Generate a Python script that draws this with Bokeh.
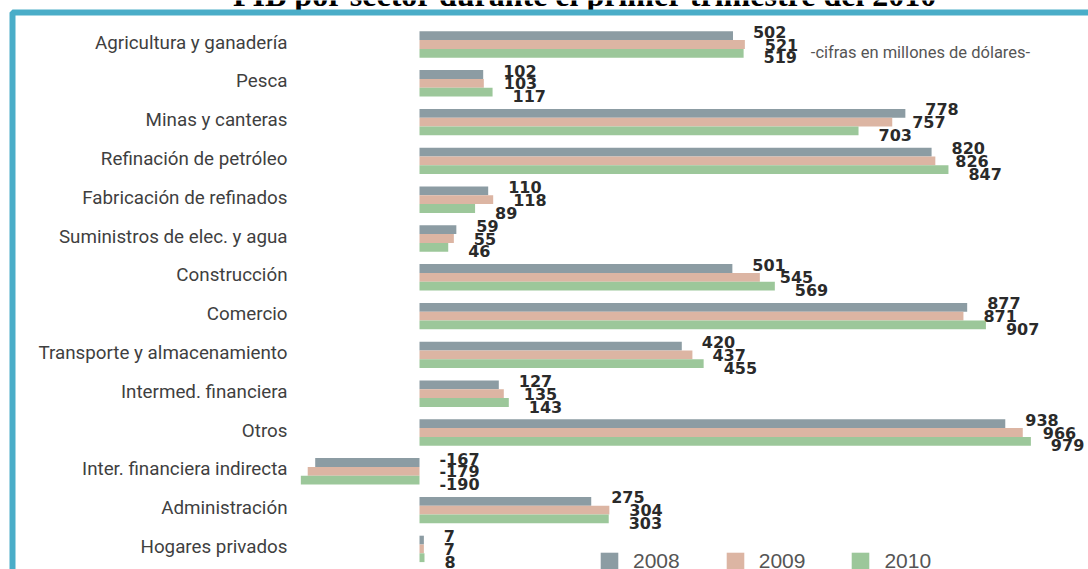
from bokeh.plotting import figure
from bokeh.models import ColumnDataSource, Range1d, BoxAnnotation, Label
from bokeh.transform import dodge
from bokeh.core.properties import value
from bokeh.embed import file_html
from bokeh.resources import INLINE

# PIB por sector, primer trimestre (millones de dólares)
sectores = [
    "Agricultura y ganadería",
    "Pesca",
    "Minas y canteras",
    "Refinación de petróleo",
    "Fabricación de refinados",
    "Suministros de elec. y agua",
    "Construcción",
    "Comercio",
    "Transporte y almacenamiento",
    "Intermed. financiera",
    "Otros",
    "Inter. financiera indirecta",
    "Administración",
    "Hogares privados",
]
pib_2008 = [502, 102, 778, 820, 110, 59, 501, 877, 420, 127, 938, -167, 275, 7]
pib_2009 = [521, 103, 757, 826, 118, 55, 545, 871, 437, 135, 966, -179, 304, 7]
pib_2010 = [519, 117, 703, 847, 89, 46, 569, 907, 455, 143, 979, -190, 303, 8]
anios = ["2008", "2009", "2010"]
colores = ["#8c9ca3", "#dcb5a3", "#9cc79a"]

W, H = 1088, 569
ROW_TOP = 44.0      # pixel centre of the first row
ROW_STEP = 38.8     # pixels between rows
ZERO_PX = 419.0     # pixel of the zero baseline
PX_PER_UNIT = 0.6245


def px_x(px):
    return (px - ZERO_PX) / PX_PER_UNIT


def px_y(py):
    return (py - ROW_TOP) / ROW_STEP


p = figure(
    width=W, height=H,
    x_range=Range1d(px_x(0), px_x(W)),
    y_range=Range1d(px_y(H), px_y(0)),
    x_axis_location=None, y_axis_location=None,
    output_backend="svg", toolbar_location=None,
    min_border=0, outline_line_color=None,
    background_fill_color="white", border_fill_color="white",
)
p.grid.visible = False

series = [pib_2008, pib_2009, pib_2010]
data = dict(y=list(range(len(sectores))), sector=sectores)
for anio, vals in zip(anios, series):
    data["v" + anio] = vals
    data["t" + anio] = [str(v) for v in vals]
    data["x" + anio] = [max(v, 0) + 32 for v in vals]
src = ColumnDataSource(data)

bar_h = 8.8 / ROW_STEP
lab_step = 12.8 / ROW_STEP

for k, (anio, col) in enumerate(zip(anios, colores)):
    p.hbar(y=dodge("y", (k - 1) * bar_h, range=p.y_range), left=0,
           right="v" + anio, height=bar_h, fill_color=col, line_color=None,
           source=src, legend_label=anio)

for k, anio in enumerate(anios):
    p.text(x="x" + anio, y=dodge("y", (k - 1) * lab_step, range=p.y_range),
           text="t" + anio, source=src, text_align="left",
           text_baseline="middle", text_font=value("DejaVu Sans"),
           text_font_style="bold", text_font_size="16px",
           text_color="#2a2a2a")

# sector names
p.text(x=px_x(287), y="y", text="sector", source=src, text_align="right",
       text_baseline="middle", y_offset=-2, text_font=value("Roboto"),
       text_font_size="18.8px", text_color="#3f3f3f")

p.add_layout(Label(x=px_x(920), y=px_y(52), text="-cifras en millones de dólares-",
                   text_align="center", text_baseline="middle",
                   text_font="Roboto", text_font_size="16.5px",
                   text_color="#555555"))

p.add_layout(Label(x=px_x(585), y=px_y(-6),
                   text="PIB por sector durante el primer trimestre del 2010",
                   text_align="center", text_baseline="alphabetic",
                   text_font="Liberation Serif", text_font_style="bold",
                   text_font_size="32px", text_color="black"))

p.add_layout(BoxAnnotation(left=px_x(12), right=px_x(1300), top=px_y(12),
                           bottom=px_y(800), fill_color=None, fill_alpha=0,
                           line_color="#4aadc8", line_alpha=1.0, line_width=6))

lg = p.legend[0]
lg.orientation = "horizontal"
lg.location = (598, -4)
lg.padding = 0
lg.margin = 0
lg.spacing = 44
lg.glyph_width = 22
lg.glyph_height = 22
lg.label_standoff = 13
lg.label_text_font = "Liberation Sans"
lg.label_text_font_size = "21px"
lg.label_text_color = "#555555"
lg.background_fill_alpha = 0
lg.border_line_alpha = 0

open("out.html", "w").write(file_html(p, INLINE))
